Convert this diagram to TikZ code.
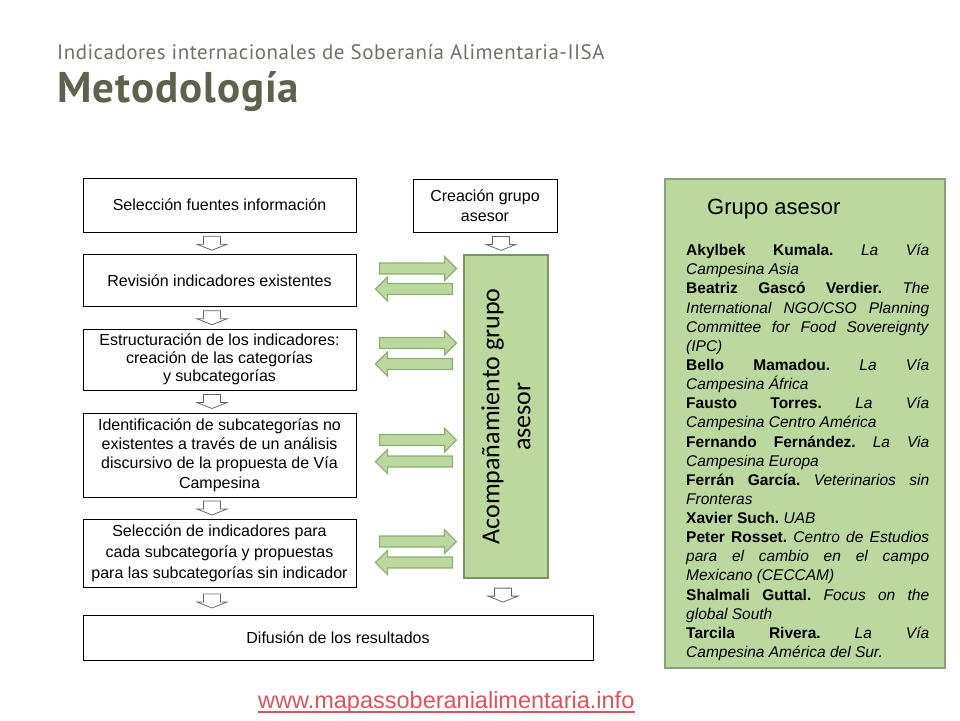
\documentclass[tikz,border=0pt]{standalone}
\usepackage{fontspec}
\setmainfont{Liberation Sans}
\newfontfamily\titlefont[LetterSpace=2.3]{PT Sans}
\newfontfamily\boxfont{Carlito}
\usepackage{tikz}
\usetikzlibrary{positioning,calc}
\definecolor{titlegray}{RGB}{112,112,104}
\definecolor{titleolive}{RGB}{94,98,77}
\definecolor{sheetgreen}{RGB}{187,216,158}
\definecolor{boxgreen}{RGB}{120,150,100}
\definecolor{panelgreen}{RGB}{140,160,125}
\definecolor{blockgreen}{RGB}{140,175,115}
\definecolor{urlred}{RGB}{217,84,94}
\tikzset{
  step-box/.style={draw=black, fill=white, line width=0.8pt, align=center, inner sep=2pt,
    font=\fontsize{16}{19.3}\selectfont},
  green-box/.style={draw=boxgreen, fill=sheetgreen, line width=1.2pt, inner sep=0pt},
  block-outline/.style={draw=black!60, fill=white, line width=0.8pt},
  green-block/.style={draw=blockgreen, fill=sheetgreen, line width=1.2pt},
  down-block/.pic={\draw[block-outline] (-8.5,-7) -- (8.5,-7) -- (8.5,1) -- (15,1) -- (0,7) -- (-15,1) -- (-8.5,1) -- cycle;},
  right-block/.pic={\draw[green-block] (-77,-5.5) -- (-12,-5.5) -- (-12,-12) -- (0,0) -- (-12,12) -- (-12,5.5) -- (-77,5.5) -- cycle;},
  left-block/.pic={\draw[green-block] (0,-5.5) -- (-65,-5.5) -- (-65,-12) -- (-77,0) -- (-65,12) -- (-65,5.5) -- (0,5.5) -- cycle;}
}

\begin{document}
\begin{tikzpicture}[x=1pt, y=-1pt]
  \useasboundingbox (0,0) rectangle (960,720);

  % Titles
  \node[anchor=base west, inner sep=0, text=titlegray, font=\titlefont\fontsize{21}{25}\selectfont] (subtitle) at (57,59)
    {Indicadores internacionales de Soberanía Alimentaria-IISA};
  \node[anchor=base west, inner sep=0, text=titleolive, font=\titlefont\bfseries\fontsize{43}{50}\selectfont] (title) at (57,102)
    {Metodología};

  % Method steps
  \node[step-box, minimum width=273pt, minimum height=54pt] (fuentes) at (219.5,205)
    {Selección fuentes información};
  \node[step-box, minimum width=144pt, minimum height=53pt, font=\fontsize{16}{20}\selectfont] (creacion) at (485,205.5)
    {Creación grupo\\asesor};
  \node[step-box, minimum width=273pt, minimum height=52pt] (revision) at (219.5,280.5)
    {Revisión indicadores existentes};
  \node[step-box, minimum width=273pt, minimum height=61pt, font=\fontsize{16}{18}\selectfont] (estructura) at (219.5,359.5)
    {Estructuración de los indicadores:\\creación de las categorías\\y subcategorías};
  \node[step-box, minimum width=273pt, minimum height=84pt] (identifica) at (219.5,455)
    {Identificación de subcategorías no\\existentes a través de un análisis\\discursivo de la propuesta de Vía\\Campesina};
  \node[step-box, minimum width=273pt, minimum height=68pt, font=\fontsize{16}{21}\selectfont] (seleccion) at (219.5,553)
    {Selección de indicadores para\\cada subcategoría y propuestas\\para las subcategorías sin indicador};
  \node[step-box, minimum width=510pt, minimum height=45pt] (difusion) at (338,637.5)
    {Difusión de los resultados};

  % Advisory group
  \node[green-box, minimum width=84pt, minimum height=323pt] (acomp) at (506,416.5) {};
  \node[rotate=90, align=center, inner sep=0, font=\boxfont\fontsize{26}{31}\selectfont] (acomp-text) at (acomp.center)
    {Acompañamiento grupo\\asesor};

  % Down arrows
  \foreach \a/\b in {fuentes/revision, revision/estructura, estructura/identifica, identifica/seleccion, seleccion/difusion}
    \pic at ($(\a.south)!0.5!(\a.south |- \b.north)+(-7.5,0)$) {down-block};
  \pic at ($(creacion.south)!0.5!(acomp.north)+(5.5,0)$) {down-block};
  \pic at ($(acomp.south)+(-3,16.5)$) {down-block};

  % Exchange arrows
  \foreach \b/\ya/\yb in {revision/-12/8.5, estructura/-16.5/4.5, identifica/-15/6.5, seleccion/-11.5/9.5} {
    \pic at ($(acomp.west |- \b.center)+(-7,\ya)$) {right-block};
    \pic at ($(acomp.west |- \b.center)+(-11,\yb)$) {left-block};
  }

  % Members panel
  \node[draw=panelgreen, fill=sheetgreen, line width=1.2pt, minimum width=280pt, minimum height=489pt] (panel) at (805,423.5) {};
  \node[anchor=west, inner sep=0, font=\fontsize{22}{26}\selectfont] (panel-title) at (707,209) {Grupo asesor};
  \node[anchor=north west, inner sep=0, text width=243pt, align=justify, font=\fontsize{15.5}{19.14}\selectfont\frenchspacing] (members) at (686,244)
    {\textbf{Akylbek Kumala.} \textit{La Vía}\linebreak\textit{Campesina Asia}\par
     \textbf{Beatriz Gascó Verdier.} \textit{The}\linebreak\textit{International NGO/CSO Planning}\linebreak\textit{Committee for Food Sovereignty}\linebreak\textit{(IPC)}\par
     \textbf{Bello Mamadou.} \textit{La Vía}\linebreak\textit{Campesina África}\par
     \textbf{Fausto Torres.} \textit{La Vía}\linebreak\textit{Campesina Centro América}\par
     \textbf{Fernando Fernández.} \textit{La Via}\linebreak\textit{Campesina Europa}\par
     \textbf{Ferrán García.} \textit{Veterinarios sin}\linebreak\textit{Fronteras}\par
     \textbf{Xavier Such.} \textit{UAB}\par
     \textbf{Peter Rosset.} \textit{Centro de Estudios}\linebreak\textit{para el cambio en el campo}\linebreak\textit{Mexicano (CECCAM)}\par
     \textbf{Shalmali Guttal.} \textit{Focus on the}\linebreak\textit{global South}\par
     \textbf{Tarcila Rivera.} \textit{La Vía}\linebreak\textit{Campesina América del Sur.}};

  % Web address
  \node[anchor=base west, inner sep=0, text=urlred, font=\fontsize{23.5}{28}\selectfont] (url) at (258,708)
    {www.mapassoberanialimentaria.info};
  \draw[urlred, line width=1.6pt] ($(url.base west)+(0,4)$) -- ($(url.base east)+(0,4)$);
\end{tikzpicture}
\end{document}
